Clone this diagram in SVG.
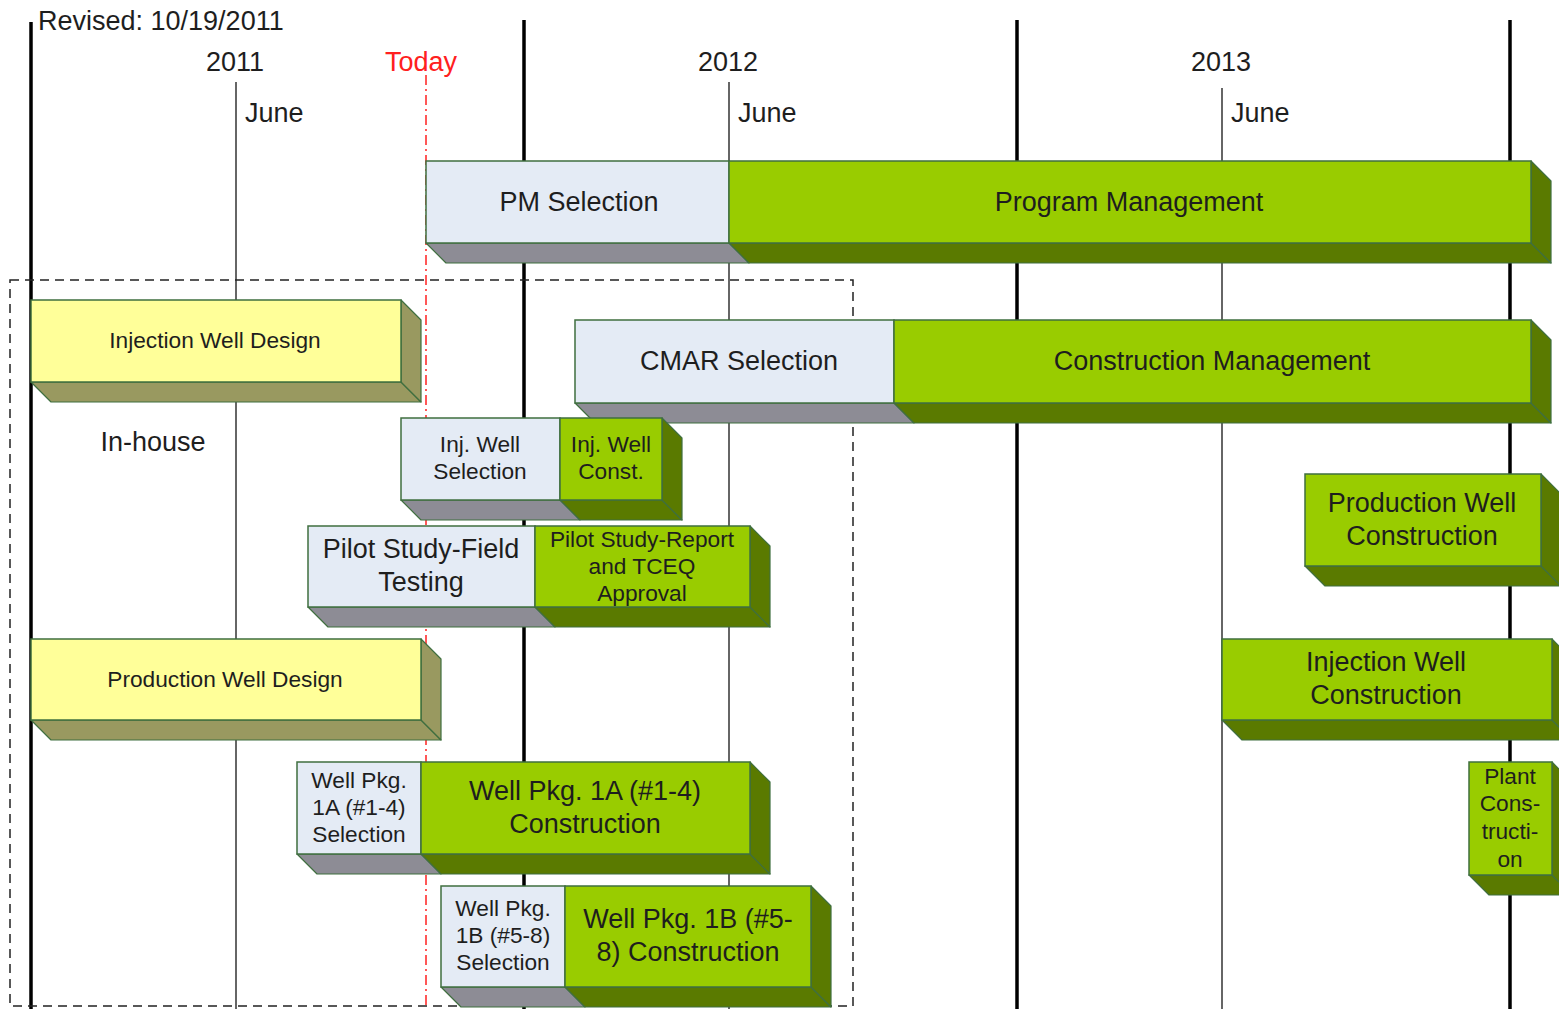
<svg xmlns="http://www.w3.org/2000/svg" width="1559" height="1009" viewBox="0 0 1559 1009">
<style>
text{font-family:"Liberation Sans",Arial,sans-serif;fill:#1e1e1e;text-anchor:middle}
.big{font-size:27px}
.small{font-size:22.7px}
.fb{fill:#E4EBF5;stroke:#3F6F3F;stroke-width:1.5}
.fg{fill:#99CC00;stroke:#3F6F3F;stroke-width:1.5}
.fy{fill:#FFFF99;stroke:#3F6F3F;stroke-width:1.5}
.sg{fill:#5A7A00;stroke:#3F6F3F;stroke-width:1.2;stroke-linejoin:round}
.sy{fill:#8D8C95;stroke:#3F6F3F;stroke-width:1.2;stroke-linejoin:round}
.so{fill:#999960;stroke:#3F6F3F;stroke-width:1.2;stroke-linejoin:round}
.year{stroke:#000;stroke-width:3.5}
.month{stroke:#666;stroke-width:2}
</style>
<rect width="1559" height="1009" fill="#fff"/>
<g id="timeline">
<line class="year" x1="31" y1="22" x2="31" y2="1009"/>
<line class="year" x1="524" y1="20" x2="524" y2="1009"/>
<line class="year" x1="1017" y1="20" x2="1017" y2="1009"/>
<line class="year" x1="1510" y1="20" x2="1510" y2="1009"/>
<line class="month" x1="236" y1="82" x2="236" y2="1009"/>
<line class="month" x1="729" y1="82" x2="729" y2="1009"/>
<line class="month" x1="1222" y1="88" x2="1222" y2="1009"/>
<line x1="426" y1="75" x2="426" y2="1009" stroke="#FF2020" stroke-width="1.5" stroke-dasharray="10,4,2,4"/>
<rect x="10" y="280" width="843" height="726" fill="none" stroke="#222" stroke-width="1.5" stroke-dasharray="9,6"/>
<text class="big" x="38" y="30" style="text-anchor:start">Revised: 10/19/2011</text>
<text class="big" x="235" y="71">2011</text>
<text class="big" x="728" y="71">2012</text>
<text class="big" x="1221" y="71">2013</text>
<text class="big" x="421" y="71" style="fill:#FF2020">Today</text>
<text class="big" x="245" y="122" style="text-anchor:start">June</text>
<text class="big" x="738" y="122" style="text-anchor:start">June</text>
<text class="big" x="1231" y="122" style="text-anchor:start">June</text>
<text class="big" x="153" y="451">In-house</text>
</g>
<g id="connectors"/>
<g id="pm">
<polygon class="sy" points="426,243 729,243 749,263 446,263"/>
<polygon class="sg" points="729,243 1531,243 1551,263 749,263"/>
<polygon class="sg" points="1531,161 1551,181 1551,263 1531,243"/>
<rect class="fb" x="426" y="161" width="303" height="82"/>
<rect class="fg" x="729" y="161" width="802" height="82"/>
<text class="big" x="579" y="211">PM Selection</text>
<text class="big" x="1129" y="211">Program Management</text>
</g>
<g id="iwd">
<polygon class="so" points="31,382 401,382 421,402 51,402"/>
<polygon class="so" points="401,300 421,320 421,402 401,382"/>
<rect class="fy" x="31" y="300" width="370" height="82"/>
<text class="small" x="215" y="348">Injection Well Design</text>
</g>
<g id="cmar">
<polygon class="sy" points="575,403 894,403 914,423 595,423"/>
<polygon class="sg" points="894,403 1531,403 1551,423 914,423"/>
<polygon class="sg" points="1531,320 1551,340 1551,423 1531,403"/>
<rect class="fb" x="575" y="320" width="319" height="83"/>
<rect class="fg" x="894" y="320" width="637" height="83"/>
<text class="big" x="739" y="370">CMAR Selection</text>
<text class="big" x="1212" y="370">Construction Management</text>
</g>
<g id="injwell">
<polygon class="sy" points="401,500 560,500 580,520 421,520"/>
<polygon class="sg" points="560,500 662,500 682,520 580,520"/>
<polygon class="sg" points="662,418 682,438 682,520 662,500"/>
<rect class="fb" x="401" y="418" width="159" height="82"/>
<rect class="fg" x="560" y="418" width="102" height="82"/>
<text class="small" x="480" y="452">Inj. Well</text>
<text class="small" x="480" y="479">Selection</text>
<text class="small" x="611" y="452">Inj. Well</text>
<text class="small" x="611" y="479">Const.</text>
</g>
<g id="pilot">
<polygon class="sy" points="308,607 535,607 555,627 328,627"/>
<polygon class="sg" points="535,607 750,607 770,627 555,627"/>
<polygon class="sg" points="750,526 770,546 770,627 750,607"/>
<rect class="fb" x="308" y="526" width="227" height="81"/>
<rect class="fg" x="535" y="526" width="215" height="81"/>
<text class="big" x="421" y="558">Pilot Study-Field</text>
<text class="big" x="421" y="591">Testing</text>
<text class="small" x="642" y="547">Pilot Study-Report</text>
<text class="small" x="642" y="574">and TCEQ</text>
<text class="small" x="642" y="601">Approval</text>
</g>
<g id="pwc">
<polygon class="sg" points="1305,566 1541,566 1561,586 1325,586"/>
<polygon class="sg" points="1541,474 1561,494 1561,586 1541,566"/>
<rect class="fg" x="1305" y="474" width="236" height="92"/>
<text class="big" x="1422" y="512">Production Well</text>
<text class="big" x="1422" y="545">Construction</text>
</g>
<g id="pwd">
<polygon class="so" points="31,720 421,720 441,740 51,740"/>
<polygon class="so" points="421,639 441,659 441,740 421,720"/>
<rect class="fy" x="31" y="639" width="390" height="81"/>
<text class="small" x="225" y="687">Production Well Design</text>
</g>
<g id="iwc">
<polygon class="sg" points="1222,720 1552,720 1572,740 1242,740"/>
<polygon class="sg" points="1552,639 1572,659 1572,740 1552,720"/>
<rect class="fg" x="1222" y="639" width="330" height="81"/>
<text class="big" x="1386" y="671">Injection Well</text>
<text class="big" x="1386" y="704">Construction</text>
</g>
<g id="wp1a">
<polygon class="sy" points="297,854 421,854 441,874 317,874"/>
<polygon class="sg" points="421,854 750,854 770,874 441,874"/>
<polygon class="sg" points="750,762 770,782 770,874 750,854"/>
<rect class="fb" x="297" y="762" width="124" height="92"/>
<rect class="fg" x="421" y="762" width="329" height="92"/>
<text class="small" x="359" y="788">Well Pkg.</text>
<text class="small" x="359" y="815">1A (#1-4)</text>
<text class="small" x="359" y="842">Selection</text>
<text class="big" x="585" y="800">Well Pkg. 1A (#1-4)</text>
<text class="big" x="585" y="833">Construction</text>
</g>
<g id="wp1b">
<polygon class="sy" points="441,987 565,987 585,1007 461,1007"/>
<polygon class="sg" points="565,987 811,987 831,1007 585,1007"/>
<polygon class="sg" points="811,886 831,906 831,1007 811,987"/>
<rect class="fb" x="441" y="886" width="124" height="101"/>
<rect class="fg" x="565" y="886" width="246" height="101"/>
<text class="small" x="503" y="916">Well Pkg.</text>
<text class="small" x="503" y="943">1B (#5-8)</text>
<text class="small" x="503" y="970">Selection</text>
<text class="big" x="688" y="928">Well Pkg. 1B (#5-</text>
<text class="big" x="688" y="961">8) Construction</text>
</g>
<g id="plant">
<polygon class="sg" points="1469,875 1552,875 1572,895 1489,895"/>
<polygon class="sg" points="1552,762 1572,782 1572,895 1552,875"/>
<rect class="fg" x="1469" y="762" width="83" height="113"/>
<text class="small" x="1510" y="784">Plant</text>
<text class="small" x="1510" y="811">Cons-</text>
<text class="small" x="1510" y="839">tructi-</text>
<text class="small" x="1510" y="867">on</text>
</g>
</svg>
